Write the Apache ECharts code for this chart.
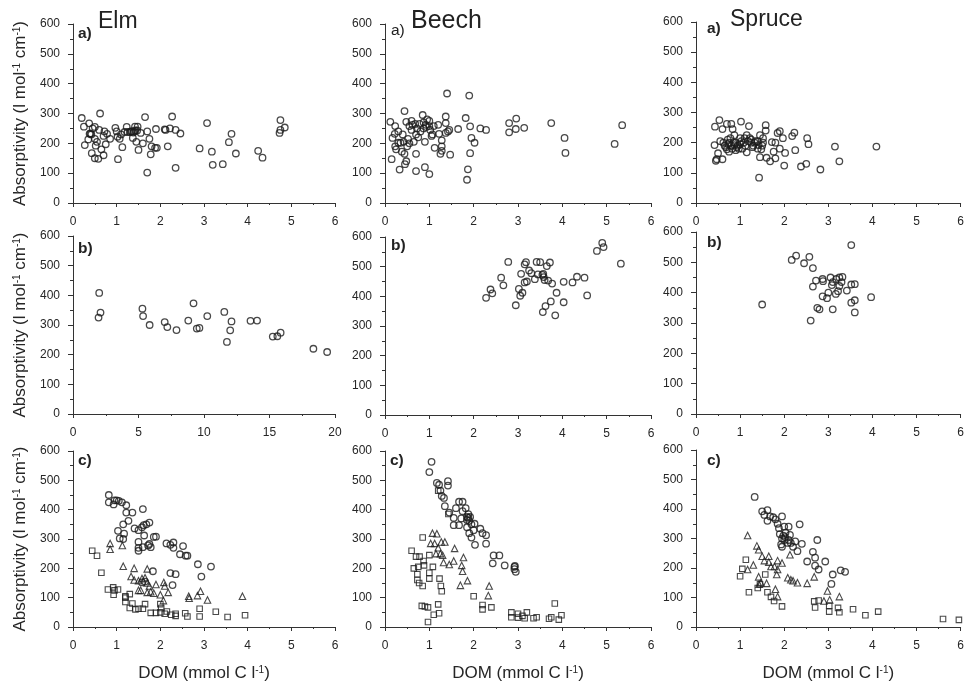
<!DOCTYPE html>
<html><head><meta charset="utf-8">
<style>html,body{margin:0;padding:0;background:#fff}#c{width:967px;height:683px;filter:blur(0.35px)}</style>
<script src="https://cdn.jsdelivr.net/npm/echarts@6/dist/echarts.min.js"></script>
</head><body><div id="c"></div>
<script>
const yTicks = [0,100,200,300,400,500,600];
const elmA = [[.2,285],[.25,256],[.37,267],[.27,194],[.35,213],[.38,232],[.42,230],[.4,233],[.45,250],[.5,255],[.43,167],[.5,150],[.58,148],[.5,215],[.55,205],[.52,192],[.6,245],[.62,300],[.65,180],[.7,160],[.7,225],[.72,240],[.75,197],[.78,232],[.85,215],[.97,252],[1.0,240],[1.02,222],[1.03,147],[1.07,215],[1.1,230],[1.13,187],[1.18,238],[1.23,255],[1.25,238],[1.3,238],[1.33,240],[1.35,240],[1.37,218],[1.38,236],[1.4,240],[1.42,256],[1.43,243],[1.45,205],[1.47,243],[1.48,256],[1.5,178],[1.55,235],[1.6,200],[1.65,288],[1.7,240],[1.7,102],[1.75,215],[1.78,163],[1.8,190],[1.88,185],[1.92,185],[1.9,248],[2.1,247],[2.12,245],[2.17,190],[2.22,250],[2.27,290],[2.35,118],[2.35,245],[2.46,233],[2.9,183],[3.07,268],[3.18,172],[3.2,128],[3.43,130],[3.57,204],[3.63,232],[3.73,166],[4.24,175],[4.34,152],[4.73,235],[4.75,245],[4.75,278],[4.85,253]];
const elmB = [[2.0,408],[2.1,342],[1.95,325],[5.3,355],[5.35,330],[5.85,300],[7.0,310],[7.2,293],[7.9,283],[8.8,315],[9.2,373],[9.45,288],[9.65,290],[10.25,330],[11.55,344],[11.75,243],[12.0,282],[12.1,312],[13.55,314],[14.05,315],[15.25,261],[15.6,262],[15.85,274],[18.35,220],[19.4,209]];
const elmCCircle = [[.82,450],[.82,425],[.93,418],[.95,432],[1.0,432],[1.05,430],[1.12,425],[1.22,415],[1.22,390],[1.36,390],[1.6,402],[1.15,350],[1.27,362],[1.03,328],[1.07,302],[1.15,300],[1.17,318],[1.41,336],[1.5,330],[1.58,340],[1.62,347],[1.68,350],[1.75,356],[1.63,312],[1.5,290],[1.5,270],[1.5,260],[1.6,272],[1.72,278],[1.75,283],[1.78,272],[1.85,307],[1.9,308],[2.14,285],[2.23,280],[2.3,288],[2.3,270],[2.45,248],[2.52,276],[2.58,243],[2.62,243],[2.86,214],[3.16,206],[2.94,172],[2.23,184],[2.35,180],[2.28,143],[1.83,190],[1.58,152],[1.65,155]];
const elmCTriangle = [[.85,285],[.85,265],[1.13,278],[1.15,207],[1.4,200],[1.7,198],[1.33,172],[1.4,160],[1.5,158],[1.58,165],[1.65,168],[1.7,150],[1.75,140],[1.9,145],[1.5,125],[1.55,125],[1.7,118],[1.78,120],[1.85,115],[2.08,152],[2.1,140],[2.0,110],[2.18,118],[2.07,90],[2.65,105],[2.66,98],[2.85,107],[2.92,122],[3.08,92],[3.88,105]];
const elmCSquare = [[.44,260],[.55,243],[.65,185],[.8,128],[.92,135],[.95,125],[.93,110],[1.03,128],[1.2,100],[1.2,85],[1.2,105],[1.3,112],[1.3,65],[1.36,80],[1.43,60],[1.5,62],[1.6,62],[1.65,78],[1.78,48],[1.9,48],[2.0,50],[2.0,78],[2.02,65],[2.1,45],[2.15,53],[2.25,42],[2.35,38],[2.35,45],[2.57,47],[2.62,36],[2.9,62],[2.9,36],[3.27,52],[3.54,34],[3.94,40]];
const beechA = [[.12,272],[.15,147],[.17,218],[.22,232],[.23,258],[.23,190],[.25,180],[.3,240],[.3,202],[.33,112],[.35,202],[.38,172],[.4,230],[.42,205],[.44,308],[.44,165],[.45,130],[.48,140],[.48,272],[.5,190],[.52,215],[.55,200],[.55,258],[.6,245],[.6,275],[.62,262],[.65,205],[.68,265],[.7,230],[.7,165],[.7,107],[.72,250],[.75,220],[.78,265],[.8,240],[.85,295],[.87,250],[.87,270],[.9,205],[.9,120],[.92,262],[.93,255],[.95,280],[1.0,275],[1.0,97],[1.0,258],[1.02,245],[1.05,225],[1.07,230],[1.1,258],[1.12,185],[1.2,262],[1.22,232],[1.25,165],[1.28,175],[1.28,190],[1.28,210],[1.37,290],[1.37,268],[1.37,235],[1.4,367],[1.42,240],[1.45,245],[1.47,162],[1.65,248],[1.82,285],[1.87,113],[1.85,78],[1.9,360],[1.92,167],[1.92,257],[1.95,218],[2.02,202],[2.15,250],[2.28,245],[2.8,237],[2.8,268],[2.95,248],[2.96,283],[3.14,252],[3.75,268],[4.05,218],[4.07,168],[5.18,198],[5.35,261]];
const beechB = [[2.28,395],[2.38,423],[2.42,410],[2.62,463],[2.67,437],[2.78,516],[2.95,370],[3.02,425],[3.05,402],[3.07,476],[3.1,412],[3.15,447],[3.15,508],[3.18,515],[3.2,450],[3.25,487],[3.3,478],[3.38,458],[3.42,516],[3.45,474],[3.5,515],[3.55,472],[3.56,347],[3.57,476],[3.58,465],[3.6,455],[3.62,367],[3.65,502],[3.68,453],[3.72,514],[3.74,383],[3.77,443],[3.84,336],[3.87,412],[4.03,449],[4.03,380],[4.23,447],[4.33,466],[4.5,463],[4.56,403],[4.78,553],[4.9,580],[4.93,566],[5.32,510]];
const beechCCircle = [[1.05,563],[1.0,528],[1.17,491],[1.22,485],[1.42,497],[1.42,482],[1.25,465],[1.28,447],[1.33,440],[1.35,412],[1.45,390],[1.55,372],[1.55,347],[1.6,405],[1.67,347],[1.67,427],[1.75,427],[1.75,395],[1.72,370],[1.82,405],[1.85,375],[1.85,365],[1.88,385],[1.85,340],[1.88,372],[1.9,362],[1.92,375],[1.95,350],[1.9,320],[1.95,305],[2.0,330],[2.03,280],[2.02,352],[2.15,335],[2.2,320],[2.28,313],[2.28,284],[2.43,217],[2.45,244],[2.58,244],[2.7,210],[2.92,205],[2.92,197],[2.95,188],[2.93,208]];
const beechCTriangle = [[1.07,320],[1.17,318],[1.03,285],[1.12,285],[1.15,250],[1.2,270],[1.25,250],[1.27,290],[1.35,290],[1.3,245],[1.32,220],[1.45,213],[1.55,225],[1.57,268],[1.77,237],[1.73,210],[1.75,190],[1.7,142],[1.86,158],[2.35,140],[2.33,107]];
const beechCSquare = [[.6,260],[.65,200],[.7,240],[.73,180],[.73,160],[.75,205],[.77,150],[.78,240],[.85,140],[.85,305],[.83,72],[.87,225],[.88,210],[.9,70],[.97,67],[1.0,165],[1.0,185],[.97,17],[1.0,245],[1.08,205],[1.1,42],[1.2,77],[1.22,47],[1.23,165],[1.26,140],[1.28,122],[1.2,465],[1.43,385],[2.0,105],[2.2,75],[2.2,60],[2.4,67],[2.85,50],[2.85,33],[3.0,32],[3.0,45],[3.1,38],[3.15,30],[3.2,50],[3.35,30],[3.42,33],[3.7,28],[3.75,33],[3.83,80],[3.92,25],[3.98,40]];
const spruceA = [[.43,253],[.42,192],[.45,140],[.47,145],[.5,165],[.53,275],[.55,205],[.6,145],[.6,245],[.65,190],[.7,262],[.72,210],[.75,170],[.8,262],[.83,245],[.85,200],[.87,225],[.9,175],[.95,190],[1.0,215],[1.02,270],[1.05,180],[1.1,215],[1.15,225],[1.15,168],[1.2,255],[1.22,215],[1.25,200],[1.3,190],[1.35,205],[1.4,180],[1.45,152],[1.45,225],[1.43,84],[1.5,190],[1.52,215],[1.58,258],[1.58,240],[1.6,150],[1.68,138],[1.72,202],[1.76,170],[1.8,148],[1.8,200],[1.85,232],[1.9,180],[1.9,238],[1.97,215],[2.0,124],[2.02,166],[2.18,222],[2.23,233],[2.25,175],[2.38,121],[2.5,130],[2.52,215],[2.55,195],[2.82,111],[3.15,187],[3.25,138],[4.09,187],[.62,200],[.68,185],[.75,200],[.78,215],[.8,190],[.9,200],[.92,185],[1.0,195],[1.08,200],[1.25,210],[1.4,205],[.7,178],[.73,195],[.82,180],[.87,192],[.97,180],[1.03,205],[1.12,190],[1.18,205],[1.28,185],[1.33,200],[1.42,192],[1.48,178],[1.52,200]];
const spruceB = [[1.5,361],[2.17,508],[2.27,522],[2.45,497],[2.57,518],[2.6,308],[2.65,481],[2.65,420],[2.75,350],[2.72,440],[2.8,345],[2.87,388],[2.87,445],[2.88,438],[2.97,382],[3.0,400],[3.05,450],[3.08,425],[3.1,345],[3.1,435],[3.17,396],[3.18,445],[3.22,405],[3.25,422],[3.25,450],[3.3,435],[3.32,452],[3.42,407],[3.52,427],[3.52,367],[3.52,557],[3.6,335],[3.6,375],[3.6,428],[3.97,385]];
const spruceCCircle = [[1.33,441],[1.5,392],[1.62,396],[1.55,380],[1.62,360],[1.68,375],[1.75,372],[1.8,365],[1.85,350],[1.88,335],[1.9,315],[1.95,300],[1.95,375],[2.0,340],[2.03,320],[2.1,340],[2.13,312],[2.0,295],[1.93,280],[1.95,272],[1.98,310],[2.02,305],[2.08,285],[2.1,295],[2.15,285],[2.2,272],[2.25,290],[2.3,257],[2.35,348],[2.4,282],[2.52,222],[2.65,255],[2.7,235],[2.7,208],[2.75,295],[2.78,195],[2.93,222],[3.07,146],[3.1,178],[3.28,192],[3.38,187]];
const spruceCTriangle = [[1.17,310],[1.38,275],[1.42,262],[1.3,210],[1.17,195],[1.5,240],[1.55,225],[1.65,240],[1.65,220],[1.7,205],[1.78,205],[1.85,225],[1.85,195],[1.83,178],[1.95,217],[2.13,245],[2.08,167],[2.15,160],[2.2,157],[2.3,150],[2.52,148],[2.68,170],[2.98,122],[2.9,88],[3.03,92],[3.25,103],[1.42,170],[1.43,145],[1.47,150],[1.6,148],[1.8,128],[1.85,103]];
const spruceCSquare = [[1.0,172],[1.05,197],[1.13,228],[1.2,118],[1.4,132],[1.45,145],[1.57,178],[1.62,118],[1.7,102],[1.77,88],[1.95,70],[2.68,87],[2.7,66],[2.78,90],[3.02,52],[3.02,72],[3.22,65],[3.25,50],[3.56,60],[3.84,40],[4.13,52],[5.6,27],[5.96,24]];

const F = '"Liberation Sans", Arial, sans-serif';
const INK = '#262626';
const panels = [
 {l:73, t:24, w:262,h:179,xMax:6, xInt:1,yName:true, tag:'a)',tx:78, ty:26,bold:true,  s:[[elmA,'circle']]},
 {l:73, t:236,w:262,h:178,xMax:20,xInt:5,yName:true, tag:'b)',tx:78, ty:241,bold:true, s:[[elmB,'circle']]},
 {l:73, t:451,w:262,h:179,xMax:6, xInt:1,yName:true,xName:true, tag:'c)',tx:78, ty:453,bold:true, s:[[elmCSquare,'rect'],[elmCTriangle,'triangle'],[elmCCircle,'circle']]},
 {l:385,t:24, w:266,h:179,xMax:6, xInt:1, tag:'a)',tx:391,ty:23,bold:false, s:[[beechA,'circle']]},
 {l:385,t:237,w:266,h:178,xMax:6, xInt:1, tag:'b)',tx:391,ty:238,bold:true, s:[[beechB,'circle']]},
 {l:385,t:451,w:266,h:179,xMax:6, xInt:1,xName:true, tag:'c)',tx:390,ty:453,bold:true, s:[[beechCSquare,'rect'],[beechCTriangle,'triangle'],[beechCCircle,'circle']]},
 {l:696,t:22, w:266,h:181,xMax:6, xInt:1, tag:'a)',tx:707,ty:21,bold:true, s:[[spruceA,'circle']]},
 {l:696,t:232,w:266,h:182,xMax:6, xInt:1, tag:'b)',tx:707,ty:235,bold:true, s:[[spruceB,'circle']]},
 {l:696,t:450,w:266,h:181,xMax:6, xInt:1,xName:true, tag:'c)',tx:707,ty:453,bold:true, s:[[spruceCSquare,'rect'],[spruceCTriangle,'triangle'],[spruceCCircle,'circle']]}
];
const heads = [['Elm',98,12,23],['Beech',411,11,25],['Spruce',730,10,23]];
const sup = {s:{fontSize:10,fontFamily:F,color:INK,verticalAlign:'top',lineHeight:11,padding:[0,0,6,0]}};
const line = {lineStyle:{color:'#333',width:1}};
const option = {animation:false,backgroundColor:'#fff',grid:[],xAxis:[],yAxis:[],series:[],title:[]};
panels.forEach((p,i)=>{
  option.grid.push({left:p.l,top:p.t,width:p.w,height:p.h,containLabel:false});
  option.xAxis.push({gridIndex:i,type:'value',min:0,max:p.xMax,interval:p.xInt,
    splitLine:{show:false},axisLine:{show:true,onZero:false,...line},
    axisTick:{show:true,inside:false,length:4,...line},
    minorTick:{show:true,splitNumber:2,length:2,...line},
    axisLabel:{fontSize:12,fontFamily:F,color:INK,margin:13,showMinLabel:true,showMaxLabel:true},
    ...(p.xName?{name:'DOM (mmol C l{s|-1})',nameLocation:'middle',nameGap:38,
      nameTextStyle:{fontSize:17,fontFamily:F,color:INK,rich:sup}}:{})});
  option.yAxis.push({gridIndex:i,type:'value',min:yTicks[0],max:yTicks[yTicks.length-1],interval:yTicks[1]-yTicks[0],
    splitLine:{show:false},axisLine:{show:true,onZero:false,...line},
    axisTick:{show:true,inside:false,length:5,...line},
    minorTick:{show:true,splitNumber:2,length:3,...line},
    axisLabel:{fontSize:12,fontFamily:F,color:INK,margin:13,showMinLabel:true,showMaxLabel:true},
    ...(p.yName?{name:'Absorptivity (l mol{s|-1} cm{s|-1})',nameLocation:'middle',nameGap:44,nameRotate:90,
      nameTextStyle:{fontSize:17,fontFamily:F,color:INK,rich:sup}}:{})});
  p.s.forEach(([data,sym])=>{
    option.series.push({type:'scatter',xAxisIndex:i,yAxisIndex:i,data,symbol:sym,clip:false,
      symbolSize:sym==='rect'?5.5:(sym==='triangle'?6.5:6.5),
      itemStyle:{color:'rgba(255,255,255,0)',borderColor:'#1c1c1c',borderWidth:sym==='circle'?1.3:1.1}});
  });
  option.title.push({text:p.tag,left:p.tx,top:p.ty,padding:0,
    textStyle:{fontSize:15.5,fontFamily:F,color:'#222',fontWeight:p.bold?'bold':'normal'}});
});
heads.forEach(([t,x,y,fs])=>option.title.push({text:t,left:x,top:y-2,padding:0,
  textStyle:{fontSize:fs,fontFamily:F,color:'#222',fontWeight:'normal'}}));
echarts.init(document.getElementById('c'),null,{renderer:'canvas'}).setOption(option);
</script></body></html>
